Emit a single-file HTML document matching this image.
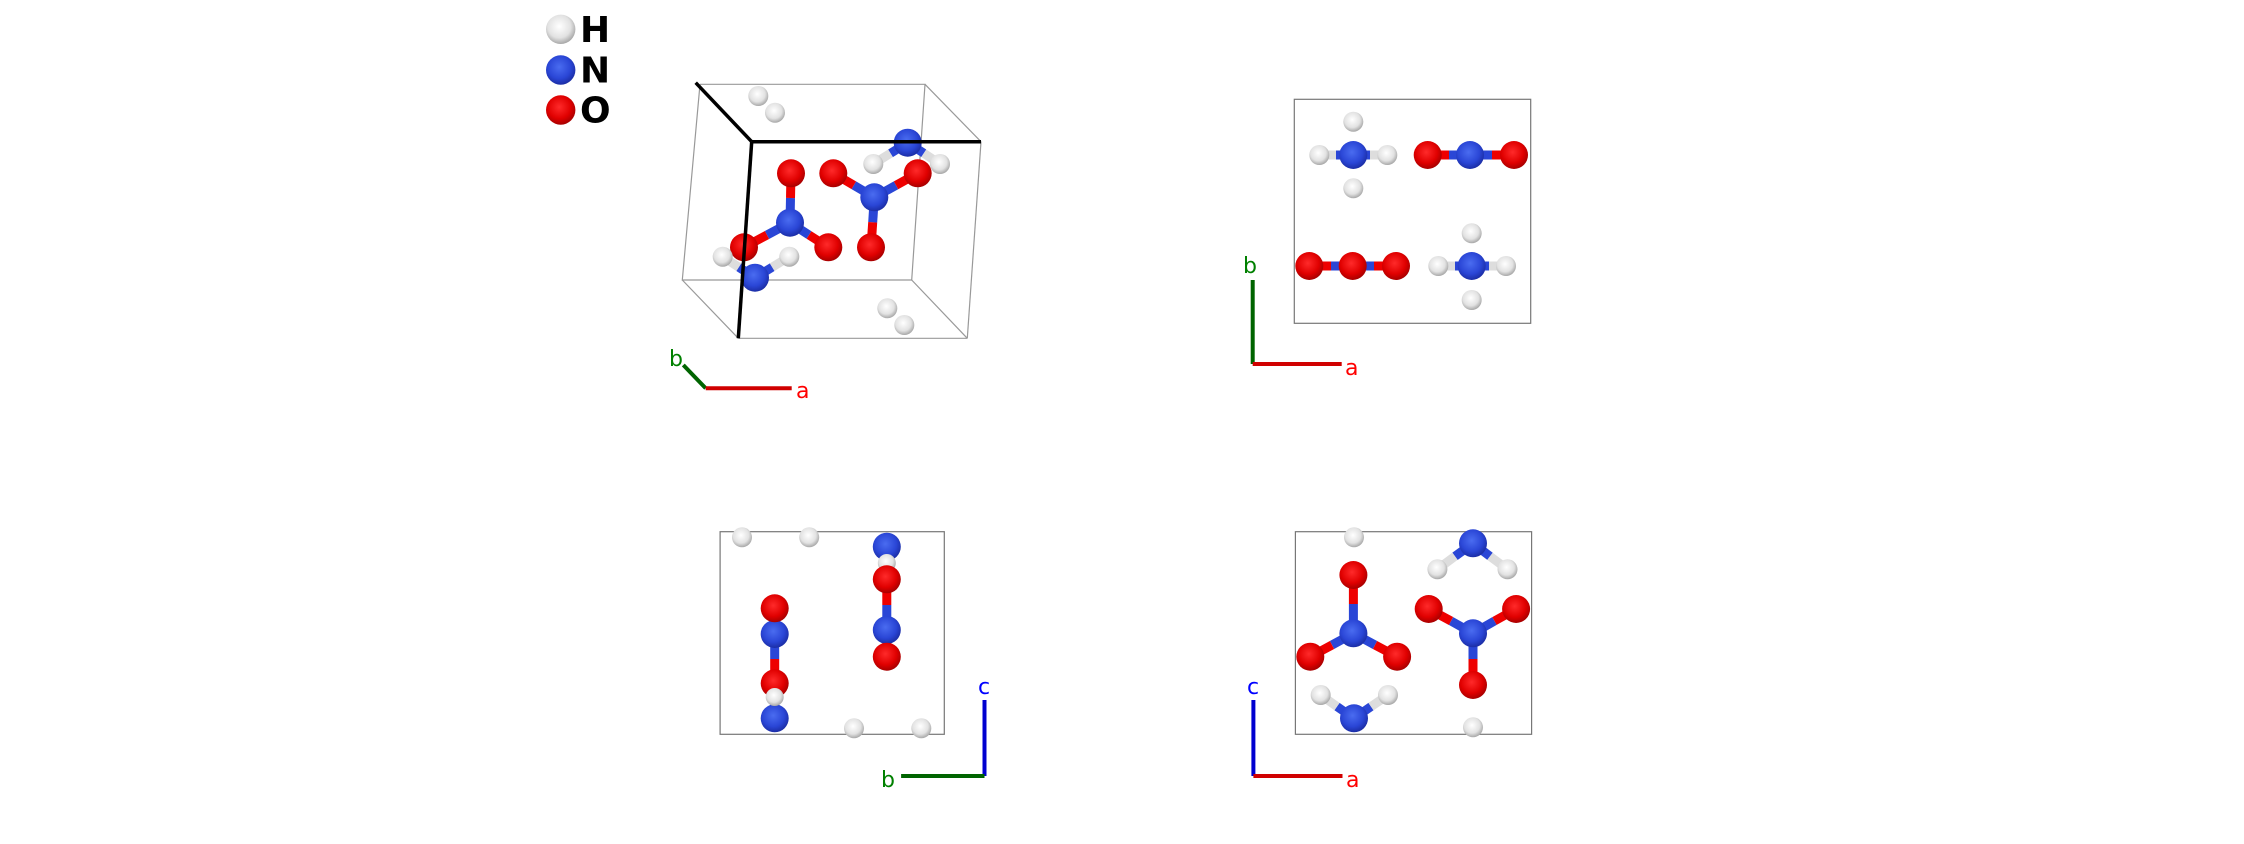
<!DOCTYPE html>
<html><head><meta charset="utf-8"><style>html,body{margin:0;padding:0;background:#fff}svg{display:block}</style></head>
<body>
<svg width="2244" height="844" viewBox="0 0 2244 844" xmlns="http://www.w3.org/2000/svg" font-family="DejaVu Sans, Liberation Sans, sans-serif">
<defs>
<radialGradient id="gH" cx="0.45" cy="0.4" r="0.65"><stop offset="0" stop-color="#ffffff"/><stop offset="0.6" stop-color="#e2e2e2"/><stop offset="1" stop-color="#9a9a9a"/></radialGradient>
<radialGradient id="gN" cx="0.45" cy="0.4" r="0.65"><stop offset="0" stop-color="#4a6cf0"/><stop offset="0.6" stop-color="#2a46d6"/><stop offset="1" stop-color="#18289a"/></radialGradient>
<radialGradient id="gO" cx="0.45" cy="0.4" r="0.65"><stop offset="0" stop-color="#ff2a2a"/><stop offset="0.6" stop-color="#e00000"/><stop offset="1" stop-color="#9a0000"/></radialGradient>
</defs>
<g id="legend">
<circle cx="560.7" cy="29.3" r="14.7" fill="url(#gH)"/>
<circle cx="560.7" cy="70" r="14.7" fill="url(#gN)"/>
<circle cx="560.7" cy="110" r="14.7" fill="url(#gO)"/>
<g font-weight="bold" font-size="36" fill="#000">
<text x="580" y="42">H</text><text x="580" y="82.5">N</text><text x="580" y="122.5">O</text></g>
</g>

<!-- Panel 1 -->
<g stroke="#999" stroke-width="1.2" fill="none">
<polyline points="700,84.3 925,84.3 911.7,280 682.3,280 700,84.3"/>
<line x1="981" y1="141.7" x2="967.3" y2="338.3"/>
<line x1="738.3" y1="338.3" x2="967.3" y2="338.3"/>
<line x1="925" y1="84.3" x2="981" y2="141.7"/>
<line x1="682.3" y1="280" x2="738.3" y2="338.3"/>
<line x1="911.7" y1="280" x2="967.3" y2="338.3"/>
</g>
<g stroke-width="9" stroke-linecap="butt">
<line x1="907.7" y1="142.7" x2="890.5" y2="153.3" stroke="#2a46d6"/><line x1="890.5" y1="153.3" x2="873.3" y2="164" stroke="#ddd"/>
<line x1="907.7" y1="142.7" x2="923.8" y2="153.3" stroke="#2a46d6"/><line x1="923.8" y1="153.3" x2="940" y2="164" stroke="#ddd"/>
<line x1="790" y1="222.7" x2="790.5" y2="198" stroke="#2a46d6"/><line x1="790.5" y1="198" x2="791" y2="173.3" stroke="#e00"/>
<line x1="790" y1="222.7" x2="767" y2="235" stroke="#2a46d6"/><line x1="767" y1="235" x2="744" y2="247.3" stroke="#e00"/>
<line x1="790" y1="222.7" x2="809" y2="235" stroke="#2a46d6"/><line x1="809" y1="235" x2="828.3" y2="247.3" stroke="#e00"/>
<line x1="874.3" y1="197.3" x2="853.8" y2="185.3" stroke="#2a46d6"/><line x1="853.8" y1="185.3" x2="833.3" y2="173.3" stroke="#e00"/>
<line x1="874.3" y1="197.3" x2="896" y2="185.3" stroke="#2a46d6"/><line x1="896" y1="185.3" x2="917.7" y2="173.3" stroke="#e00"/>
<line x1="874.3" y1="197.3" x2="872.7" y2="222.3" stroke="#2a46d6"/><line x1="872.7" y1="222.3" x2="871" y2="247.3" stroke="#e00"/>
<line x1="755" y1="277.7" x2="738.8" y2="267.2" stroke="#2a46d6"/><line x1="738.8" y1="267.2" x2="722.7" y2="256.7" stroke="#ddd"/>
<line x1="755" y1="277.7" x2="772.2" y2="267.2" stroke="#2a46d6"/><line x1="772.2" y1="267.2" x2="789.3" y2="256.7" stroke="#ddd"/>
</g>
<circle cx="758.3" cy="96" r="10" fill="url(#gH)"/>
<circle cx="775" cy="112.7" r="10" fill="url(#gH)"/>
<circle cx="873.3" cy="164" r="10" fill="url(#gH)"/>
<circle cx="940" cy="164" r="10" fill="url(#gH)"/>
<circle cx="907.7" cy="142.7" r="14" fill="url(#gN)"/>
<circle cx="791" cy="173.3" r="14" fill="url(#gO)"/>
<circle cx="790" cy="222.7" r="14" fill="url(#gN)"/>
<circle cx="744" cy="247.3" r="14" fill="url(#gO)"/>
<circle cx="828.3" cy="247.3" r="14" fill="url(#gO)"/>
<circle cx="833.3" cy="173.3" r="14" fill="url(#gO)"/>
<circle cx="917.7" cy="173.3" r="14" fill="url(#gO)"/>
<circle cx="874.3" cy="197.3" r="14" fill="url(#gN)"/>
<circle cx="871" cy="247.3" r="14" fill="url(#gO)"/>
<circle cx="722.7" cy="256.7" r="10" fill="url(#gH)"/>
<circle cx="789.3" cy="256.7" r="10" fill="url(#gH)"/>
<circle cx="755" cy="277.7" r="14" fill="url(#gN)"/>
<circle cx="887.3" cy="308.3" r="10" fill="url(#gH)"/>
<circle cx="904.3" cy="325" r="10" fill="url(#gH)"/>
<g stroke="#000" stroke-width="3.5" fill="none">
<line x1="695.7" y1="82.7" x2="751.7" y2="141.7"/>
<line x1="751.7" y1="141.7" x2="981" y2="141.7"/>
<line x1="751.7" y1="141.7" x2="738.3" y2="338.3"/>
</g>
<line x1="683.3" y1="365" x2="705.7" y2="388.3" stroke="#006400" stroke-width="4"/>
<line x1="705.7" y1="388.3" x2="791.7" y2="388.3" stroke="#d00000" stroke-width="4"/>
<text x="669" y="366" font-size="22" fill="#008000">b</text>
<text x="796" y="398" font-size="22" fill="#ff0000">a</text>

<!-- Panel 2 -->
<rect x="1294.3" y="99.3" width="236.4" height="224" fill="none" stroke="#777" stroke-width="1.2"/>
<g stroke-width="9">
<line x1="1319.3" y1="155" x2="1336" y2="155" stroke="#ddd"/><line x1="1336" y1="155" x2="1370" y2="155" stroke="#2a46d6"/><line x1="1370" y1="155" x2="1387.3" y2="155" stroke="#ddd"/>
<line x1="1427.7" y1="155" x2="1449" y2="155" stroke="#e00"/><line x1="1449" y1="155" x2="1492" y2="155" stroke="#2a46d6"/><line x1="1492" y1="155" x2="1514" y2="155" stroke="#e00"/>
<line x1="1309.3" y1="266" x2="1331" y2="266" stroke="#e00"/><line x1="1331" y1="266" x2="1374" y2="266" stroke="#2a46d6"/><line x1="1374" y1="266" x2="1396" y2="266" stroke="#e00"/>
<line x1="1438.3" y1="266" x2="1455" y2="266" stroke="#ddd"/><line x1="1455" y1="266" x2="1489" y2="266" stroke="#2a46d6"/><line x1="1489" y1="266" x2="1506" y2="266" stroke="#ddd"/>
</g>
<circle cx="1353.3" cy="121.7" r="10" fill="url(#gH)"/>
<circle cx="1319.3" cy="155" r="10" fill="url(#gH)"/>
<circle cx="1387.3" cy="155" r="10" fill="url(#gH)"/>
<circle cx="1353.3" cy="188.3" r="10" fill="url(#gH)"/>
<circle cx="1353.3" cy="155" r="14" fill="url(#gN)"/>
<circle cx="1427.7" cy="155" r="14" fill="url(#gO)"/>
<circle cx="1470" cy="155" r="14" fill="url(#gN)"/>
<circle cx="1514" cy="155" r="14" fill="url(#gO)"/>
<circle cx="1309.3" cy="266" r="14" fill="url(#gO)"/>
<circle cx="1352.7" cy="266" r="14" fill="url(#gO)"/>
<circle cx="1396" cy="266" r="14" fill="url(#gO)"/>
<circle cx="1471.7" cy="233.3" r="10" fill="url(#gH)"/>
<circle cx="1438.3" cy="266" r="10" fill="url(#gH)"/>
<circle cx="1506" cy="266" r="10" fill="url(#gH)"/>
<circle cx="1471.7" cy="300" r="10" fill="url(#gH)"/>
<circle cx="1471.7" cy="266" r="14" fill="url(#gN)"/>
<line x1="1252.7" y1="280" x2="1252.7" y2="364" stroke="#006400" stroke-width="4"/>
<line x1="1252.7" y1="364" x2="1341.7" y2="364" stroke="#d00000" stroke-width="4"/>
<text x="1243" y="273" font-size="22" fill="#008000">b</text>
<text x="1345" y="375" font-size="22" fill="#ff0000">a</text>

<!-- Panel 3 -->
<rect x="720.1" y="531.7" width="224.2" height="202.6" fill="none" stroke="#777" stroke-width="1.2"/>
<g stroke-width="9">
<line x1="886.8" y1="546.7" x2="886.8" y2="563" stroke="#2a46d6"/>
<line x1="886.8" y1="579.3" x2="886.8" y2="605" stroke="#e00"/><line x1="886.8" y1="605" x2="886.8" y2="643" stroke="#2a46d6"/><line x1="886.8" y1="643" x2="886.8" y2="656.7" stroke="#e00"/>
<line x1="774.7" y1="608.3" x2="774.7" y2="621" stroke="#e00"/><line x1="774.7" y1="621" x2="774.7" y2="659" stroke="#2a46d6"/><line x1="774.7" y1="659" x2="774.7" y2="683.3" stroke="#e00"/>
<line x1="774.7" y1="695" x2="774.7" y2="718.3" stroke="#2a46d6"/>
</g>
<circle cx="742" cy="537.3" r="10" fill="url(#gH)"/>
<circle cx="809.2" cy="537.3" r="10" fill="url(#gH)"/>
<circle cx="886.8" cy="546.7" r="14" fill="url(#gN)"/>
<circle cx="886.8" cy="563" r="9" fill="url(#gH)"/>
<circle cx="886.8" cy="579.3" r="14" fill="url(#gO)"/>
<circle cx="886.8" cy="630" r="14" fill="url(#gN)"/>
<circle cx="886.8" cy="656.7" r="14" fill="url(#gO)"/>
<circle cx="774.7" cy="634" r="14" fill="url(#gN)"/>
<circle cx="774.7" cy="608.3" r="14" fill="url(#gO)"/>
<circle cx="774.7" cy="718.3" r="14" fill="url(#gN)"/>
<circle cx="774.7" cy="683.3" r="14" fill="url(#gO)"/>
<circle cx="774.7" cy="697" r="9" fill="url(#gH)"/>
<circle cx="854" cy="728.3" r="10" fill="url(#gH)"/>
<circle cx="921.3" cy="728.3" r="10" fill="url(#gH)"/>
<line x1="984.5" y1="700" x2="984.5" y2="776" stroke="#0000d0" stroke-width="4"/>
<line x1="901.1" y1="776" x2="984.5" y2="776" stroke="#006400" stroke-width="4"/>
<text x="978" y="694" font-size="22" fill="#0000ff">c</text>
<text x="881" y="787" font-size="22" fill="#008000">b</text>

<!-- Panel 4 -->
<rect x="1295.4" y="531.7" width="236.2" height="202.6" fill="none" stroke="#777" stroke-width="1.2"/>
<g stroke-width="9">
<line x1="1473" y1="543.3" x2="1455" y2="556.3" stroke="#2a46d6"/><line x1="1455" y1="556.3" x2="1437.4" y2="569.3" stroke="#ddd"/>
<line x1="1473" y1="543.3" x2="1490" y2="556.3" stroke="#2a46d6"/><line x1="1490" y1="556.3" x2="1507.5" y2="569.3" stroke="#ddd"/>
<line x1="1353.4" y1="633.3" x2="1353.4" y2="604" stroke="#2a46d6"/><line x1="1353.4" y1="604" x2="1353.4" y2="575" stroke="#e00"/>
<line x1="1353.4" y1="633.3" x2="1332" y2="645" stroke="#2a46d6"/><line x1="1332" y1="645" x2="1310.3" y2="656.7" stroke="#e00"/>
<line x1="1353.4" y1="633.3" x2="1375" y2="645" stroke="#2a46d6"/><line x1="1375" y1="645" x2="1397.1" y2="656.7" stroke="#e00"/>
<line x1="1473" y1="633.3" x2="1451" y2="621" stroke="#2a46d6"/><line x1="1451" y1="621" x2="1428.7" y2="609" stroke="#e00"/>
<line x1="1473" y1="633.3" x2="1494.5" y2="621" stroke="#2a46d6"/><line x1="1494.5" y1="621" x2="1516.1" y2="609" stroke="#e00"/>
<line x1="1473" y1="633.3" x2="1473" y2="659" stroke="#2a46d6"/><line x1="1473" y1="659" x2="1473" y2="685" stroke="#e00"/>
<line x1="1354" y1="718.3" x2="1337" y2="706.6" stroke="#2a46d6"/><line x1="1337" y1="706.6" x2="1320.7" y2="695" stroke="#ddd"/>
<line x1="1354" y1="718.3" x2="1371" y2="706.6" stroke="#2a46d6"/><line x1="1371" y1="706.6" x2="1388" y2="695" stroke="#ddd"/>
</g>
<circle cx="1354" cy="537.3" r="10" fill="url(#gH)"/>
<circle cx="1437.4" cy="569.3" r="10" fill="url(#gH)"/>
<circle cx="1507.5" cy="569.3" r="10" fill="url(#gH)"/>
<circle cx="1473" cy="543.3" r="14" fill="url(#gN)"/>
<circle cx="1353.4" cy="575" r="14" fill="url(#gO)"/>
<circle cx="1353.4" cy="633.3" r="14" fill="url(#gN)"/>
<circle cx="1310.3" cy="656.7" r="14" fill="url(#gO)"/>
<circle cx="1397.1" cy="656.7" r="14" fill="url(#gO)"/>
<circle cx="1428.7" cy="609" r="14" fill="url(#gO)"/>
<circle cx="1516.1" cy="609" r="14" fill="url(#gO)"/>
<circle cx="1473" cy="633.3" r="14" fill="url(#gN)"/>
<circle cx="1473" cy="685" r="14" fill="url(#gO)"/>
<circle cx="1320.7" cy="695" r="10" fill="url(#gH)"/>
<circle cx="1388" cy="695" r="10" fill="url(#gH)"/>
<circle cx="1354" cy="718.3" r="14" fill="url(#gN)"/>
<circle cx="1473" cy="727.3" r="10" fill="url(#gH)"/>
<line x1="1253.4" y1="700" x2="1253.4" y2="776" stroke="#0000d0" stroke-width="4"/>
<line x1="1253.4" y1="776" x2="1342.5" y2="776" stroke="#d00000" stroke-width="4"/>
<text x="1247" y="694" font-size="22" fill="#0000ff">c</text>
<text x="1346" y="787" font-size="22" fill="#ff0000">a</text>
</svg>
</body></html>
